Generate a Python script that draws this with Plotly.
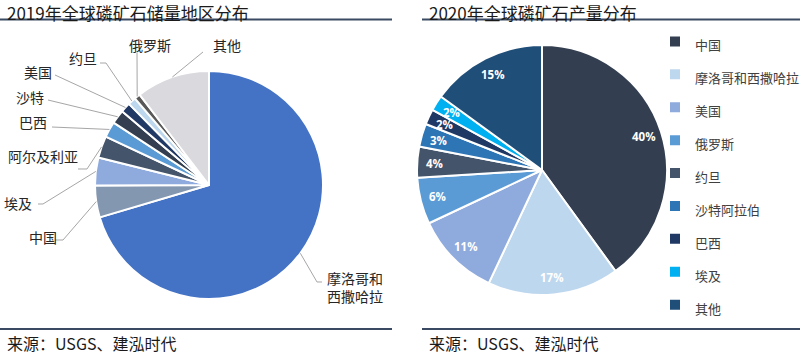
import math
import plotly.graph_objects as go

W, H = 800, 354

# ---- data: 2019 global phosphate rock reserves by region (billion t) ----
res_countries = ["摩洛哥和西撒哈拉", "中国", "埃及", "阿尔及利亚", "巴西", "沙特", "美国", "约旦", "俄罗斯", "其他"]
res_values = [50, 3.2, 2.8, 2.2, 1.6, 1.4, 1.0, 0.8, 0.6, 7.4]
res_colors = ["#4472C4", "#8497B0", "#8FAADC", "#44546A", "#5B9BD5", "#333F50", "#1F3864", "#BDD7EE", "#595959", "#D9D9DE"]

# ---- data: 2020 global phosphate rock production share (%) ----
prod_countries = ["中国", "摩洛哥和西撒哈拉", "美国", "俄罗斯", "约旦", "沙特阿拉伯", "巴西", "埃及", "其他"]
prod_values = [40, 17, 11, 6, 4, 3, 2, 2, 15]
prod_colors = ["#333F50", "#BDD7EE", "#8FAADC", "#5B9BD5", "#44546A", "#2E75B6", "#1F3864", "#00B0F0", "#1F4E79"]

title_left = "2019年全球磷矿石储量地区分布"
title_right = "2020年全球磷矿石产量分布"
source_text = "来源：USGS、建泓时代"

FONT = "Noto Sans CJK SC"


def px(x):
    return x / W


def py(y):
    return 1 - y / H


def mid_angles(vals):
    tot = sum(vals)
    out, c = [], 0.0
    for v in vals:
        out.append(2 * math.pi * (c + v / 2) / tot)
        c += v
    return out


# pie geometry (pixels)
LCX, LCY, LR = 209, 185, 114
RCX, RCY, RR = 542, 170, 125

fig = go.Figure()

fig.add_trace(go.Pie(
    labels=res_countries, values=res_values, sort=False, direction="clockwise", rotation=0,
    marker=dict(colors=res_colors, line=dict(color="white", width=2)),
    textinfo="none", showlegend=False, hoverinfo="label+percent",
    domain=dict(x=[px(LCX - LR), px(LCX + LR)], y=[py(LCY + LR), py(LCY - LR)]),
))

legend_labels = ['<span style="font-size:13px">%s</span>' % c for c in prod_countries]
fig.add_trace(go.Pie(
    labels=legend_labels, values=prod_values, sort=False, direction="clockwise", rotation=0,
    marker=dict(colors=prod_colors, line=dict(color="white", width=2)),
    textinfo="none", showlegend=True, hoverinfo="label+percent",
    domain=dict(x=[px(RCX - RR), px(RCX + RR)], y=[py(RCY + RR), py(RCY - RR)]),
))

annotations = []
shapes = []

# left pie outside labels with leader lines (label position, elbow points)
label_layout = {
    "摩洛哥和西撒哈拉": ((325, 287), "left", [(322, 282), (317, 282)]),
    "中国": ((43, 237), "center", [(55, 240), (63, 240)]),
    "埃及": ((18, 203), "center", [(38, 204), (43, 204)]),
    "阿尔及利亚": ((43, 156), "center", [(78, 169), (87, 169)]),
    "巴西": ((33, 122), "center", [(52, 127)]),
    "沙特": ((30, 97), "center", [(48, 100)]),
    "美国": ((38, 72), "center", [(55, 75)]),
    "约旦": ((83, 58), "center", [(100, 63), (106, 63)]),
    "俄罗斯": ((150, 45), "center", [(137, 53)]),
    "其他": ((227, 45), "center", [(203, 52)]),
}
for name, ang in zip(res_countries, mid_angles(res_values)):
    ax = LCX + LR * math.sin(ang)
    ay = LCY - LR * math.cos(ang)
    (tx, ty), anchor, pts = label_layout[name]
    text = name if name != "摩洛哥和西撒哈拉" else "摩洛哥和<br>西撒哈拉"
    annotations.append(dict(
        x=px(tx), y=py(ty), xref="paper", yref="paper", text=text, showarrow=False,
        xanchor=anchor, yanchor="middle", align="left",
        font=dict(family=FONT, size=14, color="#262626"),
    ))
    allpts = pts + [(ax, ay)]
    path = "M " + " L ".join("%.5f,%.5f" % (px(a), py(b)) for a, b in allpts)
    shapes.append(dict(type="path", xref="paper", yref="paper", path=path,
                       line=dict(color="#A6A6A6", width=1)))

# right pie percentage labels
tot = sum(prod_values)
for v, ang in zip(prod_values, mid_angles(prod_values)):
    k = 0.86
    x = RCX + k * RR * math.sin(ang)
    y = RCY - k * RR * math.cos(ang)
    annotations.append(dict(
        x=px(x), y=py(y), xref="paper", yref="paper", text="%d%%" % round(v / tot * 100),
        showarrow=False, xanchor="center", yanchor="middle",
        font=dict(family="Open Sans", size=11.5, color="white", weight="bold"),
    ))

# titles and sources
for x0, t in [(5, title_left), (427, title_right)]:
    annotations.append(dict(x=px(x0), y=py(12), xref="paper", yref="paper", text=t,
                            showarrow=False, xanchor="left", yanchor="middle",
                            font=dict(family=FONT, size=17, color="#1A1A1A")))
for x0 in [5, 427]:
    annotations.append(dict(x=px(x0), y=py(343), xref="paper", yref="paper", text=source_text,
                            showarrow=False, xanchor="left", yanchor="middle",
                            font=dict(family=FONT, size=16, color="#1A1A1A")))

for (x0, x1) in [(0, 392), (422, 800)]:
    for yy in [19.5, 329]:
        shapes.append(dict(type="line", xref="paper", yref="paper",
                           x0=px(x0), x1=px(x1), y0=py(yy), y1=py(yy),
                           line=dict(color="#3B4A63", width=2)))

fig.update_layout(
    width=W, height=H,
    margin=dict(l=0, r=0, t=0, b=0, autoexpand=False),
    paper_bgcolor="white", plot_bgcolor="white",
    annotations=annotations, shapes=shapes,
    legend=dict(x=px(655), y=py(20), xanchor="left", yanchor="top",
                font=dict(family=FONT, size=23, color="#404040"),
                bgcolor="rgba(0,0,0,0)", traceorder="normal"),
)

fig.write_html("out.html")
